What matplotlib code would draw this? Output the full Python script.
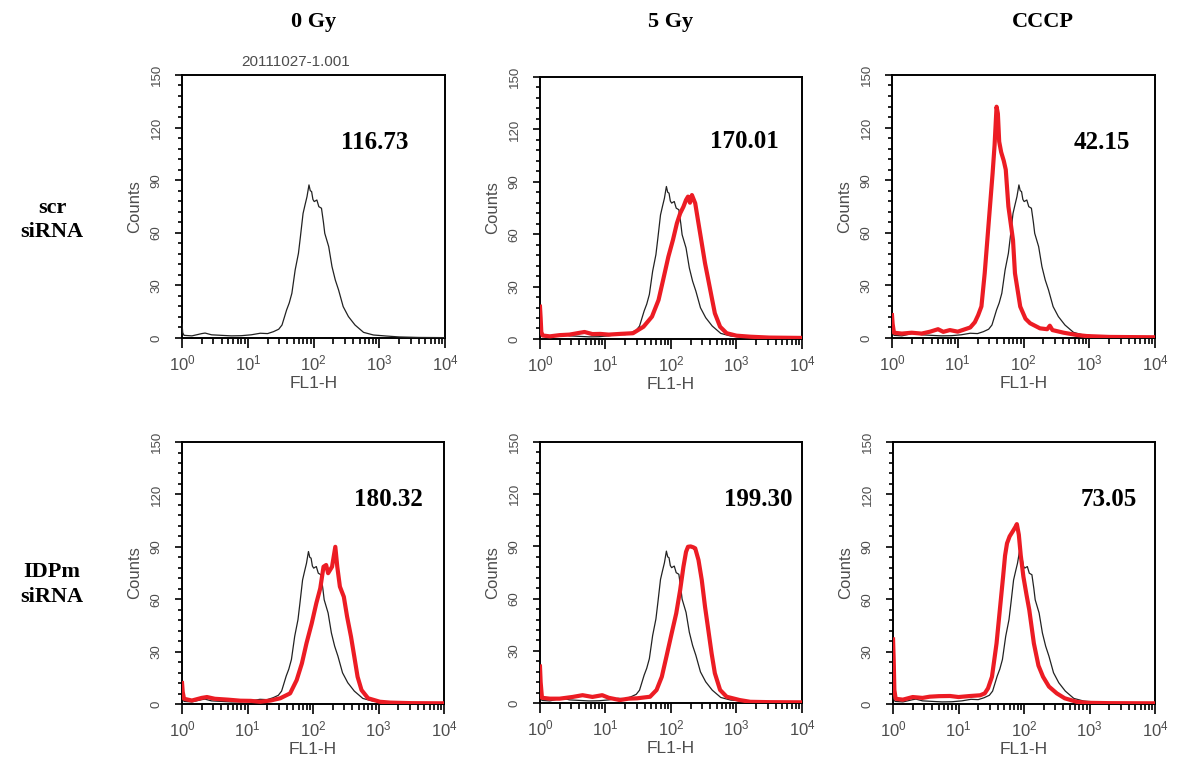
# Flow cytometry FL1-H histograms, scr vs IDPm siRNA

import numpy as np
import matplotlib
matplotlib.use("Agg")
import matplotlib.pyplot as plt
from matplotlib.ticker import MultipleLocator, LogLocator, NullFormatter

plt.rcParams['font.family'] = ['Liberation Sans', 'DejaVu Sans']
plt.rcParams['mathtext.fontset'] = 'custom'
plt.rcParams['mathtext.rm'] = 'Liberation Sans'
plt.rcParams['mathtext.default'] = 'regular'

# column / row labels and the mean values written on each panel
col_titles = ["0 Gy", "5 Gy", "CCCP"]
row_titles = ["scr\nsiRNA", "IDPm\nsiRNA"]
mean_values = ["116.73", "170.01", "42.15", "180.32", "199.30", "73.05"]

# control histogram (black), log10 of FL1-H and counts
ctrl_log = [0.00, 0.01, 0.03, 0.15, 0.30, 0.35, 0.45, 0.60, 0.75, 0.90, 1.05, 1.19, 1.30,
            1.39, 1.47, 1.52, 1.59, 1.63, 1.67, 1.72, 1.77, 1.80, 1.84, 1.87, 1.90, 1.93,
            1.95, 1.97, 1.99, 2.01, 2.05, 2.08, 2.12, 2.15, 2.17, 2.23, 2.28, 2.33, 2.38,
            2.45, 2.53, 2.63, 2.76, 2.91, 3.11, 3.30, 3.60, 4.00]
ctrl_cnt = [8.0, 3.0, 1.5, 1.2, 2.5, 2.8, 1.8, 1.5, 1.2, 1.3, 1.8, 2.7, 2.5,
            3.6, 5.0, 7.4, 16.0, 20.0, 25.5, 38.8, 48.3, 57.8, 71.0, 75.9, 80.6, 87.3,
            84.0, 83.5, 79.0, 77.8, 78.7, 74.9, 74.0, 66.0, 59.7, 52.1, 40.7, 33.1, 27.4,
            17.9, 12.2, 7.4, 3.2, 1.7, 1.1, 0.6, 0.3, 0.2]

# treated histograms (red)
scr_0gy_log = []
scr_0gy_cnt = []

scr_5gy_log = [0.00, 0.01, 0.02, 0.04, 0.15, 0.30, 0.45, 0.60, 0.68, 0.80, 0.92, 1.05, 1.22,
               1.42, 1.58, 1.71, 1.81, 1.88, 1.96, 2.03, 2.09, 2.14, 2.19, 2.23, 2.26, 2.29,
               2.32, 2.37, 2.42, 2.47, 2.52, 2.57, 2.62, 2.67, 2.75, 2.85, 3.00, 3.21, 3.50, 4.00]
scr_5gy_cnt = [18.5, 12.0, 4.0, 2.0, 1.5, 2.2, 2.5, 3.5, 4.0, 2.8, 2.9, 2.5, 2.9,
               3.3, 7.0, 12.8, 22.3, 33.8, 47.1, 56.7, 66.2, 71.9, 75.7, 79.6, 81.5, 78.0,
               82.4, 77.7, 66.2, 54.8, 43.3, 33.8, 24.2, 14.7, 7.0, 3.3, 1.9, 1.3, 0.8, 0.6]

scr_cccp_log = [0.00, 0.01, 0.03, 0.15, 0.30, 0.45, 0.58, 0.70, 0.78, 0.88, 1.00, 1.08, 1.19,
                1.26, 1.31, 1.36, 1.41, 1.45, 1.49, 1.53, 1.56, 1.59, 1.61, 1.63, 1.66, 1.70,
                1.73, 1.77, 1.84, 1.87, 1.95, 2.03, 2.10, 2.25, 2.36, 2.40, 2.44, 2.61, 2.81,
                2.96, 3.30, 4.00]
scr_cccp_cnt = [13.0, 8.0, 3.0, 2.5, 3.0, 2.5, 3.6, 5.0, 3.5, 4.5, 3.6, 4.6, 6.0,
                9.0, 13.0, 18.0, 37.0, 56.0, 75.0, 94.0, 110.0, 131.9, 128.0, 112.0, 106.0, 101.0,
                96.0, 75.0, 55.9, 36.9, 17.9, 11.0, 8.4, 5.5, 5.0, 7.0, 4.5, 3.0, 1.7,
                1.1, 0.6, 0.4]

idp_0gy_log = [0.00, 0.01, 0.03, 0.15, 0.30, 0.38, 0.50, 0.70, 0.89, 1.05, 1.19, 1.35, 1.50,
               1.65, 1.75, 1.83, 1.90, 1.98, 2.05, 2.11, 2.16, 2.20, 2.23, 2.29, 2.34, 2.37,
               2.41, 2.47, 2.52, 2.58, 2.63, 2.68, 2.74, 2.84, 3.02, 3.18, 3.50, 4.00]
idp_0gy_cnt = [12.0, 7.0, 3.0, 2.0, 3.5, 4.0, 3.0, 2.5, 1.9, 1.8, 1.3, 2.0, 3.3,
               6.1, 13.7, 23.3, 34.8, 46.2, 57.7, 66.2, 78.6, 79.6, 74.9, 78.6, 90.0, 78.6,
               67.2, 61.4, 50.0, 38.5, 27.1, 15.6, 8.0, 3.3, 1.3, 0.8, 0.5, 0.4]

idp_5gy_log = [0.00, 0.01, 0.03, 0.15, 0.30, 0.50, 0.65, 0.80, 0.95, 1.05, 1.22, 1.35, 1.48,
               1.68, 1.78, 1.86, 1.93, 2.01, 2.08, 2.14, 2.19, 2.23, 2.26, 2.30, 2.34, 2.37,
               2.42, 2.47, 2.52, 2.57, 2.62, 2.67, 2.75, 2.85, 3.05, 3.21, 3.50, 4.00]
idp_5gy_cnt = [21.0, 12.0, 3.0, 2.5, 2.5, 3.5, 4.5, 3.5, 4.5, 3.0, 1.7, 2.5, 2.7,
               3.6, 7.5, 15.1, 26.6, 40.0, 51.5, 64.9, 78.3, 86.9, 89.8, 90.0, 89.5, 88.9,
               82.2, 70.7, 55.3, 42.0, 28.6, 17.1, 7.5, 3.6, 1.7, 0.7, 0.5, 0.4]

idp_cccp_log = [0.00, 0.01, 0.02, 0.04, 0.15, 0.30, 0.45, 0.56, 0.70, 0.87, 1.00, 1.18, 1.33,
                1.40, 1.45, 1.51, 1.58, 1.63, 1.68, 1.71, 1.74, 1.78, 1.83, 1.87, 1.89, 1.92,
                1.95, 1.99, 2.04, 2.08, 2.15, 2.22, 2.29, 2.38, 2.50, 2.62, 2.80, 2.96, 3.30, 4.00]
idp_cccp_cnt = [37.0, 25.0, 8.0, 3.0, 2.5, 4.0, 3.5, 4.2, 4.5, 4.6, 4.0, 4.6, 5.0,
                6.1, 9.0, 15.6, 34.7, 53.8, 72.9, 85.0, 92.0, 96.0, 99.0, 101.5, 103.0, 97.0,
                85.0, 72.9, 62.0, 53.8, 34.7, 22.0, 15.6, 10.0, 6.1, 3.3, 1.3, 0.7, 0.5, 0.4]

red_logs = [scr_0gy_log, scr_5gy_log, scr_cccp_log, idp_0gy_log, idp_5gy_log, idp_cccp_log]
red_cnts = [scr_0gy_cnt, scr_5gy_cnt, scr_cccp_cnt, idp_0gy_cnt, idp_5gy_cnt, idp_cccp_cnt]

# axes rectangles in figure fraction (left, bottom, width, height)
rects = [(0.1535, 0.5605, 0.2218, 0.342), (0.4553, 0.5592, 0.2209, 0.3407),
         (0.7521, 0.5605, 0.2218, 0.342), (0.1535, 0.0845, 0.2209, 0.3407),
         (0.4553, 0.0858, 0.2209, 0.3394), (0.7530, 0.0845, 0.2209, 0.3407)]
num_pos = [(0.734, 0.745), (0.782, 0.752), (0.797, 0.745),
           (0.787, 0.779), (0.833, 0.778), (0.822, 0.779)]

gray = '#4d4d4d'
red = '#ec1c24'

fig = plt.figure(figsize=(11.86, 7.69), dpi=100)

for i in range(6):
    ax = fig.add_axes(rects[i])
    ax.plot(10 ** np.array(ctrl_log), ctrl_cnt, color='#222222', lw=0.9, zorder=3)
    if len(red_logs[i]) > 0:
        ax.plot(10 ** np.array(red_logs[i]), red_cnts[i], color=red, lw=3.0, zorder=4)
    ax.set_xscale('log')
    ax.set_xlim(1, 1e4)
    ax.set_ylim(0, 150)
    ax.xaxis.set_major_locator(LogLocator(base=10, numticks=10))
    ax.xaxis.set_minor_locator(LogLocator(base=10, subs=np.arange(2, 10), numticks=20))
    ax.xaxis.set_minor_formatter(NullFormatter())
    ax.yaxis.set_major_locator(MultipleLocator(30))
    ax.yaxis.set_minor_locator(MultipleLocator(6))
    for s in ax.spines.values():
        s.set_linewidth(1.4)
    ax.tick_params(axis='x', which='major', direction='out', length=7, width=1.2,
                   labelsize=12, labelcolor=gray, pad=4)
    ax.tick_params(axis='x', which='minor', direction='out', length=4, width=1.2)
    ax.tick_params(axis='y', which='major', direction='out', length=5, width=1.2,
                   labelsize=9.5, labelcolor=gray, pad=9, labelrotation=90)
    ax.tick_params(axis='y', which='minor', direction='out', length=3, width=1.2)
    for lab in ax.get_yticklabels():
        lab.set_va('center')
    ax.set_xlabel("FL1-H", fontsize=12.5, color=gray, labelpad=2)
    ax.set_ylabel("Counts", fontsize=12, color=gray, labelpad=6)
    ax.text(num_pos[i][0], num_pos[i][1], mean_values[i], transform=ax.transAxes,
            ha='center', va='center', fontsize=18, fontweight='bold',
            family='Liberation Serif')
    if i == 0:
        ax.text(0.43, 1.049, "20111027-1.001", transform=ax.transAxes, ha='center',
                va='center', fontsize=11, color=gray)

# column titles
for x, t in zip([0.264, 0.565, 0.879], col_titles):
    fig.text(x, 0.971, t, ha='center', va='center', fontsize=16, fontweight='bold',
             family='Liberation Serif')

# row titles
for y, t in zip([0.714, 0.240], row_titles):
    fig.text(0.044, y, t, ha='center', va='center', fontsize=16, fontweight='bold',
             family='Liberation Serif', linespacing=1.3)

fig.savefig("out.png", dpi=100)
